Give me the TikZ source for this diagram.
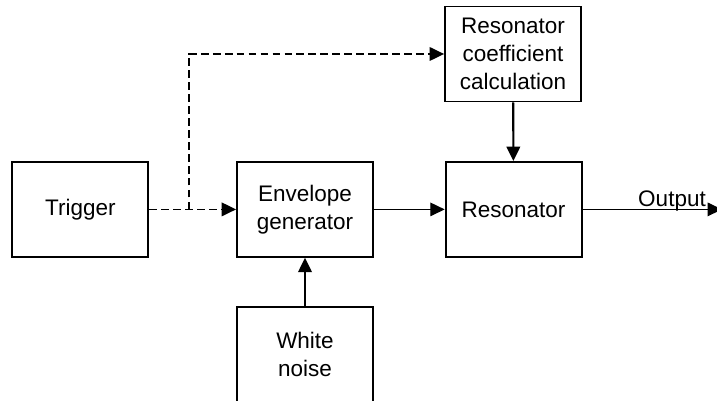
\documentclass[tikz,border=0pt]{standalone}
\usepackage{fontspec}
\setmainfont{Liberation Sans}
\usetikzlibrary{arrows.meta}

\begin{document}
\begin{tikzpicture}[
  blk/.style={draw, line width=1.3pt, minimum width=3.4cm, minimum height=2.375cm,
    align=center, font=\fontsize{16}{20}\selectfont},
  arr/.style={-{Triangle[length=0.36cm,width=0.34cm]}},
  dashline/.style={arr, line width=1.1pt, dash pattern=on 5.5pt off 3pt},
  thickline/.style={arr, line width=1.5pt},
  thinline/.style={arr, line width=0.8pt}
]
\useasboundingbox (0,0) rectangle (17.925,10.025);
\node[blk] (trig) at (2.01,4.79) {Trigger};
\node[blk] (env) at (7.625,4.79) {Envelope\\generator};
\node[blk] (res) at (12.84,4.79) {Resonator};
\node[blk] (coef) at (12.825,8.675) {Resonator\\coefficient\\calculation};
\node[blk] (noise) at (7.625,1.16) {White\\noise};
\coordinate (split) at (4.725,4.79);
\coordinate (out) at (18.05,4.79);

\draw[dashline] (trig) -- (env);
\draw[dashline] (split) |- (coef.west);
\draw[thinline] (env) -- (res);
\draw[thickline] (coef) -- (res);
\draw[thickline] (noise) -- (env);
\draw[thinline] (res) -- (out);
\node[anchor=base, font=\fontsize{16}{20}\selectfont] (outlbl) at (16.8,4.87) {Output};
\end{tikzpicture}
\end{document}
